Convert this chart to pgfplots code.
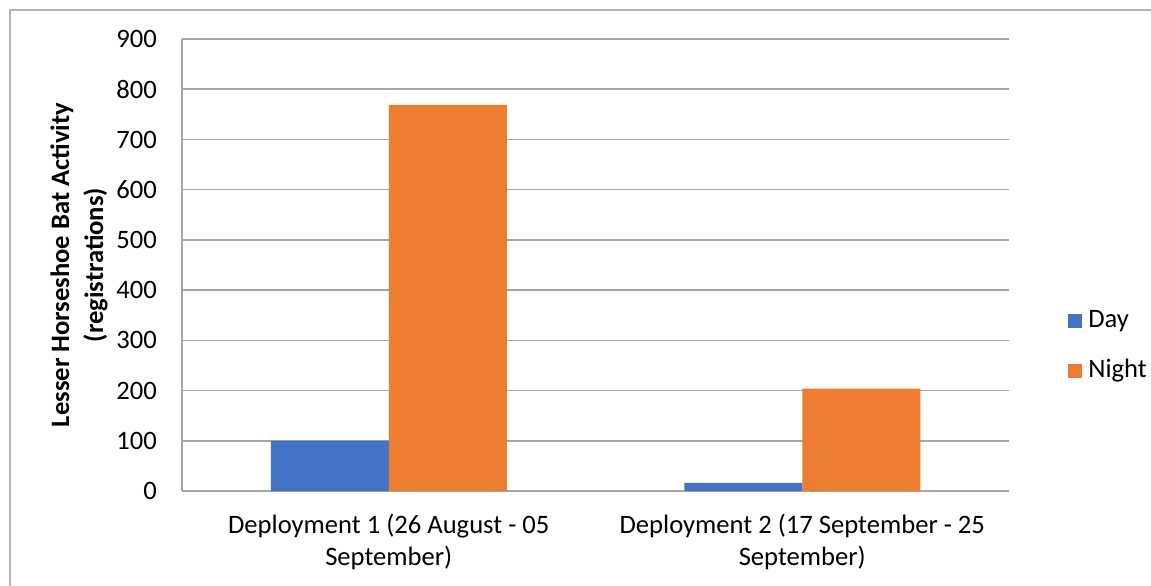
\documentclass[border=0pt]{standalone}
\usepackage{fontspec}
\setmainfont{Carlito}
\usepackage{pgfplots}
\pgfplotsset{compat=1.18}
\definecolor{dayblue}{HTML}{4472C4}
\definecolor{nightorange}{HTML}{ED7D31}
\definecolor{gridgray}{HTML}{A6A6A6}
\definecolor{framegray}{HTML}{B4B4B4}
\begin{document}
\fontsize{13.3}{16}\selectfont
\begin{tikzpicture}
\useasboundingbox (0pt,0pt) rectangle (575.5pt,292.5pt);
\draw[framegray, line width=0.8pt] (5pt,-10pt) rectangle (590pt,287.5pt);
\begin{axis}[
  at={(91pt,47pt)}, anchor=south west,
  scale only axis, width=413.5pt, height=226pt,
  ybar=0pt, bar width=59pt,
  xmin=-0.5, xmax=1.5, ymin=0, ymax=900,
  xtick={0,1},
  xticklabels={{Deployment 1 (26 August - 05\\September)},{Deployment 2 (17 September - 25\\September)}},
  xticklabel style={align=center, yshift=-7pt},
  ytick={0,100,...,900},
  yticklabel style={xshift=-8pt},
  major tick length=0pt,
  /pgf/number format/assume math mode=true,
  ymajorgrids, grid style={gridgray, line width=0.8pt},
  axis lines*=left,
  axis line style={gridgray, line width=0.8pt},
  ylabel={\textbf{Lesser Horseshoe Bat Activity}\\\textbf{(registrations)}},
  ylabel style={align=center, at={(axis description cs:-0.1245,0.5)}, anchor=center, font=\fontsize{13.3}{17}\selectfont},
  legend style={draw=none, fill=none, at={(axis description cs:1.064,0.327)}, anchor=west,
    row sep=10pt, nodes={inner xsep=3pt}, yshift=-1.5pt},
  legend cell align=left,
  legend image code/.code={\fill[#1] (0pt,-3.5pt) rectangle (7pt,3.5pt);},
]
\addplot[fill=dayblue, draw=none] coordinates {(0,100) (1,16)};
\addplot[fill=nightorange, draw=none] coordinates {(0,769) (1,204)};
\legend{Day,Night}
\end{axis}
\end{tikzpicture}
\end{document}
